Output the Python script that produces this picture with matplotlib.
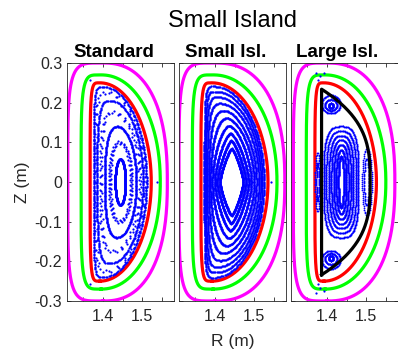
import numpy as np
import matplotlib
matplotlib.use("Agg")
import matplotlib.pyplot as plt
from matplotlib.ticker import MultipleLocator, FuncFormatter

plt.rcParams['font.family'] = ['Liberation Sans', 'DejaVu Sans']
plt.rcParams['axes.unicode_minus'] = False

# ---- data (metres) ----
titles = ['Standard', 'Small Isl.', 'Large Isl.']
x_ticks = [1.4, 1.5]
y_ticks = [-0.3, -0.2, -0.1, 0, 0.1, 0.2, 0.3]

# contours: R_in, R_out, Z_top, R_top, q_in, q_out (q = roundness of each half)
magenta = [(1.310, 1.564, 0.300, 1.400, 5.0, 2.4),
           (1.308, 1.578, 0.300, 1.400, 5.0, 2.4),
           (1.314, 1.573, 0.300, 1.400, 5.0, 2.4)]
green = [(1.344, 1.546, 0.270, 1.395, 5.0, 2.1),
         (1.342, 1.558, 0.270, 1.395, 5.0, 2.1),
         (1.347, 1.550, 0.270, 1.395, 5.0, 2.1)]
red = [(1.367, 1.523, 0.250, 1.392, 5.0, 2.0),
       (1.364, 1.535, 0.250, 1.392, 5.0, 2.0),
       (1.369, 1.526, 0.250, 1.392, 5.0, 2.0)]
# separatrix of the large island: R_left, R_right, Z_top
separatrix = (1.386, 1.510, 0.234)

# Poincare surfaces, Standard
std_solid = [(1.431, 1.457, 0.058, 1.444, 2.0, 2.0),
             (1.404, 1.485, 0.140, 1.436, 2.5, 2.0),
             (1.385, 1.502, 0.205, 1.418, 3.5, 2.0),
             (1.376, 1.511, 0.240, 1.400, 5.0, 2.0)]
std_sparse = [(1.417, 1.472, 0.100, 1.442, 2.2, 2.0),
              (1.394, 1.494, 0.175, 1.425, 3.0, 2.0),
              (1.380, 1.507, 0.225, 1.408, 4.0, 2.0)]
std_extra_R = [1.367, 1.367, 1.538]
std_extra_Z = [0.257, -0.257, 0.0]

# Small island: diamond-like inner surfaces to D-shaped outer ones
small_surf = [(1.412, 1.472, 0.085, 1.442, 1.25, 1.25),
              (1.405, 1.479, 0.105, 1.441, 1.3, 1.3),
              (1.399, 1.486, 0.123, 1.439, 1.45, 1.4),
              (1.393, 1.493, 0.142, 1.436, 1.7, 1.55),
              (1.388, 1.500, 0.161, 1.430, 2.1, 1.7),
              (1.384, 1.506, 0.180, 1.422, 2.6, 1.8),
              (1.380, 1.512, 0.198, 1.414, 3.2, 1.9),
              (1.377, 1.517, 0.214, 1.407, 3.8, 1.95),
              (1.375, 1.521, 0.228, 1.401, 4.4, 2.0),
              (1.373, 1.525, 0.241, 1.396, 5.0, 2.0)]
small_extra_R = [1.543]
small_extra_Z = [0.0]

# Large island: central island surfaces
large_core = [(1.429, 1.443, 0.065, 1.436, 2.0, 2.0),
              (1.423, 1.449, 0.080, 1.436, 2.2, 2.2),
              (1.417, 1.455, 0.094, 1.436, 2.4, 2.4),
              (1.411, 1.461, 0.106, 1.436, 2.6, 2.6),
              (1.405, 1.467, 0.117, 1.436, 2.8, 2.8),
              (1.398, 1.474, 0.128, 1.436, 3.0, 3.0),
              (1.391, 1.480, 0.140, 1.436, 3.2, 3.2)]
# small islands: centre R, centre Z, half-width, half-height
large_isl = [(1.410, 0.196, 0.024, 0.023), (1.410, 0.194, 0.015, 0.014),
             (1.410, 0.192, 0.006, 0.006),
             (1.410, -0.196, 0.024, 0.023), (1.410, -0.194, 0.015, 0.014),
             (1.410, -0.192, 0.006, 0.006),
             (1.376, 0.0, 0.006, 0.075), (1.376, 0.0, 0.003, 0.05),
             (1.502, 0.0, 0.012, 0.085), (1.501, 0.0, 0.006, 0.06)]
large_extra_R = [1.383, 1.392, 1.378, 1.383, 1.392, 1.378, 1.372, 1.372]
large_extra_Z = [0.268, 0.274, 0.258, -0.268, -0.274, -0.258, 0.275, -0.28]


def d_shape(s, n):
    # two superellipse halves joined at the top point (R_top, +-Z_top)
    r_in, r_out, z_top, r_top, q_in, q_out = s
    t = np.linspace(-np.pi / 2, np.pi / 2, n // 2)
    c, z = np.cos(t), np.sin(t)
    out_r = r_top + (r_out - r_top) * np.abs(c) ** (2 / q_out)
    out_z = z_top * np.sign(z) * np.abs(z) ** (2 / q_out)
    in_r = r_top - (r_top - r_in) * np.abs(c) ** (2 / q_in)
    in_z = z_top * np.sign(z) * np.abs(z) ** (2 / q_in)
    R = np.concatenate([out_r, in_r[::-1], out_r[:1]])
    Z = np.concatenate([out_z, in_z[::-1], out_z[:1]])
    return R, Z


def ellipse(rc, zc, w, h, n):
    th = np.linspace(0, 2 * np.pi, n)
    return rc + w * np.cos(th), zc + h * np.sin(th)


def even(R, Z, n, phase=0.0):
    # spread n puncture points evenly along a closed curve
    s = np.concatenate([[0], np.cumsum(np.hypot(np.diff(R), np.diff(Z)))])
    t = (np.arange(n) + phase) / n * s[-1]
    return np.interp(t, s, R), np.interp(t, s, Z)


blue = (0, 0, 1)
dot = dict(ls='none', marker='.', ms=3.2, color=blue, mew=0)
fine = dict(ls='none', marker='.', ms=2.6, color=blue, mew=0)

fig = plt.figure(figsize=(3.98, 3.5), dpi=100)
lefts = [67, 179, 291]
axes = []
for i in range(3):
    ax = fig.add_axes([lefts[i] / 398, 49 / 350, 107 / 398, 238 / 350])
    axes.append(ax)

for i, ax in enumerate(axes):
    for curve, col in [(magenta[i], (1, 0, 1)), (green[i], (0, 1, 0)), (red[i], (1, 0, 0))]:
        R, Z = d_shape(curve, 600)
        ax.plot(R, Z, color=col, lw=2.3, zorder=2)

# Standard
ax = axes[0]
for s in std_solid:
    R, Z = even(*d_shape(s, 2000), 300)
    ax.plot(R, Z, **dot, zorder=3)
for s in std_sparse:
    r_in, r_out, z_top, r_top, a, b = s
    for k, off in enumerate([-0.003, 0.0, 0.003]):
        R, Z = d_shape((r_in - off, r_out + off, z_top + off, r_top, a, b), 2000)
        R, Z = even(R, Z, 34 + 7 * k, phase=0.3 * k)
        ax.plot(R, Z, **dot, zorder=3)
ax.plot(std_extra_R, std_extra_Z, **dot, zorder=3)

# Small island
ax = axes[1]
for s in small_surf:
    R, Z = even(*d_shape(s, 2000), 380)
    ax.plot(R, Z, **dot, zorder=3)
ax.plot(small_extra_R, small_extra_Z, **dot, zorder=3)

# Large island
ax = axes[2]
for s in large_core:
    R, Z = even(*d_shape(s, 2000), 320)
    ax.plot(R, Z, **fine, zorder=3)
for rc, zc, w, h in large_isl:
    R, Z = even(*ellipse(rc, zc, w, h, 400), 70)
    ax.plot(R, Z, **fine, zorder=3)
ax.plot(large_extra_R, large_extra_Z, **dot, zorder=3)
r_l, r_r, z_t = separatrix
zs = np.linspace(-z_t, z_t, 200)
rs = r_l + (r_r - r_l) * (1 - np.abs(zs / z_t) ** 3)
ax.plot(np.append(rs, r_l), np.append(zs, -z_t), color='k', lw=2.3, zorder=4)

fmt = FuncFormatter(lambda v, p: '0' if abs(v) < 1e-9 else ('%g' % v))
axcol = (0.15, 0.15, 0.15)
for i, ax in enumerate(axes):
    ax.set_xlim(1.308, 1.581)
    ax.set_ylim(-0.3, 0.3)
    ax.set_xticks(x_ticks)
    ax.xaxis.set_minor_locator(MultipleLocator(0.05))
    ax.set_yticks(y_ticks)
    ax.yaxis.set_major_formatter(fmt)
    ax.tick_params(which='both', direction='in', top=True, right=True,
                   length=3, width=0.6, colors=axcol, labelsize=11.5)
    ax.tick_params(axis='x', pad=6)
    for sp in ax.spines.values():
        sp.set_color(axcol)
        sp.set_linewidth(0.6)
    if i > 0:
        ax.set_yticklabels([])
    ax.set_title(titles[i], fontweight='bold', fontsize=13.5, pad=4, x=0.435)

axes[0].set_ylabel('Z (m)', fontsize=12.5, color=axcol, labelpad=3)
axes[1].set_xlabel('R (m)', fontsize=12.5, color=axcol, labelpad=7)
fig.text(0.583, 0.94, 'Small Island', ha='center', va='center', fontsize=17)

fig.savefig('out.png', dpi=100)
